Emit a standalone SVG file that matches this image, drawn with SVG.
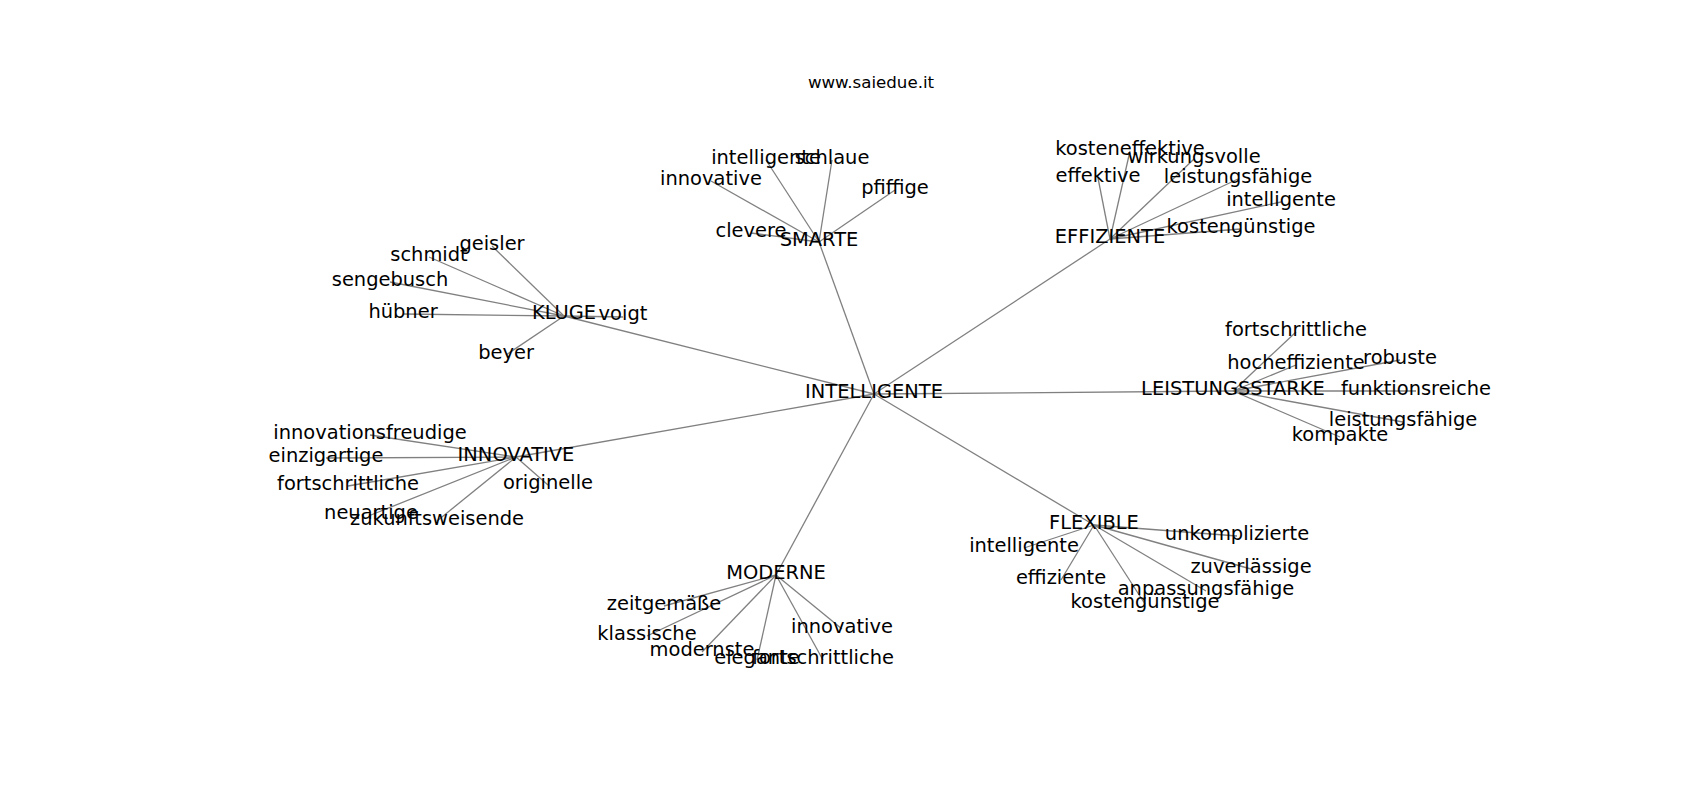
<svg xmlns="http://www.w3.org/2000/svg" width="1700" height="800" viewBox="0 0 1700 800">
<style>
.e{stroke:#808080;stroke-width:1.3;fill:none}
.t{font-family:"DejaVu Sans","Liberation Sans",sans-serif;font-size:19.44px;fill:#000;text-anchor:middle}
.title{font-family:"DejaVu Sans","Liberation Sans",sans-serif;font-size:16.67px;fill:#000;text-anchor:middle}
</style>
<rect width="1700" height="800" fill="#fff"/>
<text class="title" x="871" y="88">www.saiedue.it</text>
<g id="edges">
<line class="e" x1="874" y1="394" x2="819" y2="242"/>
<line class="e" x1="874" y1="394" x2="1110" y2="239"/>
<line class="e" x1="874" y1="394" x2="564" y2="316"/>
<line class="e" x1="874" y1="394" x2="1233" y2="391"/>
<line class="e" x1="874" y1="394" x2="516" y2="457"/>
<line class="e" x1="874" y1="394" x2="776" y2="575"/>
<line class="e" x1="874" y1="394" x2="1094" y2="525"/>
<line class="e" x1="819" y1="242" x2="766" y2="160"/>
<line class="e" x1="819" y1="242" x2="832" y2="160"/>
<line class="e" x1="819" y1="242" x2="711" y2="181"/>
<line class="e" x1="819" y1="242" x2="895" y2="190"/>
<line class="e" x1="819" y1="242" x2="751" y2="233"/>
<line class="e" x1="1110" y1="239" x2="1130" y2="151"/>
<line class="e" x1="1110" y1="239" x2="1194" y2="159"/>
<line class="e" x1="1110" y1="239" x2="1098" y2="178"/>
<line class="e" x1="1110" y1="239" x2="1238" y2="179"/>
<line class="e" x1="1110" y1="239" x2="1281" y2="202"/>
<line class="e" x1="1110" y1="239" x2="1241" y2="229"/>
<line class="e" x1="564" y1="316" x2="492" y2="246"/>
<line class="e" x1="564" y1="316" x2="429" y2="257"/>
<line class="e" x1="564" y1="316" x2="390" y2="282"/>
<line class="e" x1="564" y1="316" x2="403" y2="314"/>
<line class="e" x1="564" y1="316" x2="506" y2="355"/>
<line class="e" x1="564" y1="316" x2="623" y2="317"/>
<line class="e" x1="1233" y1="391" x2="1296" y2="332"/>
<line class="e" x1="1233" y1="391" x2="1296" y2="365"/>
<line class="e" x1="1233" y1="391" x2="1400" y2="360"/>
<line class="e" x1="1233" y1="391" x2="1416" y2="391"/>
<line class="e" x1="1233" y1="391" x2="1403" y2="422"/>
<line class="e" x1="1233" y1="391" x2="1340" y2="437"/>
<line class="e" x1="516" y1="457" x2="370" y2="435"/>
<line class="e" x1="516" y1="457" x2="326" y2="458"/>
<line class="e" x1="516" y1="457" x2="348" y2="486"/>
<line class="e" x1="516" y1="457" x2="548" y2="485"/>
<line class="e" x1="516" y1="457" x2="371" y2="515"/>
<line class="e" x1="516" y1="457" x2="437" y2="521"/>
<line class="e" x1="776" y1="575" x2="664" y2="606"/>
<line class="e" x1="776" y1="575" x2="647" y2="636"/>
<line class="e" x1="776" y1="575" x2="702" y2="652"/>
<line class="e" x1="776" y1="575" x2="757" y2="660"/>
<line class="e" x1="776" y1="575" x2="823" y2="660"/>
<line class="e" x1="776" y1="575" x2="842" y2="629"/>
<line class="e" x1="1094" y1="525" x2="1237" y2="536"/>
<line class="e" x1="1094" y1="525" x2="1024" y2="548"/>
<line class="e" x1="1094" y1="525" x2="1251" y2="569"/>
<line class="e" x1="1094" y1="525" x2="1061" y2="580"/>
<line class="e" x1="1094" y1="525" x2="1206" y2="591"/>
<line class="e" x1="1094" y1="525" x2="1145" y2="604"/>
</g>
<g id="n-intelligente-center"><text class="t" x="874" y="398">INTELLIGENTE</text></g>
<g id="n-smarte"><text class="t" x="819" y="246">SMARTE</text></g>
<g id="n-effiziente"><text class="t" x="1110" y="243">EFFIZIENTE</text></g>
<g id="n-kluge"><text class="t" x="564" y="319">KLUGE</text></g>
<g id="n-leistungsstarke"><text class="t" x="1233" y="395">LEISTUNGSSTARKE</text></g>
<g id="n-innovative-hub"><text class="t" x="516" y="461">INNOVATIVE</text></g>
<g id="n-moderne"><text class="t" x="776" y="579">MODERNE</text></g>
<g id="n-flexible"><text class="t" x="1094" y="529">FLEXIBLE</text></g>
<g id="n-s1"><text class="t" x="766" y="164">intelligente</text></g>
<g id="n-s2"><text class="t" x="832" y="164">schlaue</text></g>
<g id="n-s3"><text class="t" x="711" y="185">innovative</text></g>
<g id="n-s4"><text class="t" x="895" y="194">pfiffige</text></g>
<g id="n-s5"><text class="t" x="751" y="237">clevere</text></g>
<g id="n-e1"><text class="t" x="1130" y="155">kosteneffektive</text></g>
<g id="n-e2"><text class="t" x="1194" y="163">wirkungsvolle</text></g>
<g id="n-e3"><text class="t" x="1098" y="182">effektive</text></g>
<g id="n-e4"><text class="t" x="1238" y="183">leistungsfähige</text></g>
<g id="n-e5"><text class="t" x="1281" y="206">intelligente</text></g>
<g id="n-e6"><text class="t" x="1241" y="233">kostengünstige</text></g>
<g id="n-k1"><text class="t" x="492" y="250">geisler</text></g>
<g id="n-k2"><text class="t" x="429" y="261">schmidt</text></g>
<g id="n-k3"><text class="t" x="390" y="286">sengebusch</text></g>
<g id="n-k4"><text class="t" x="403" y="318">hübner</text></g>
<g id="n-k5"><text class="t" x="506" y="359">beyer</text></g>
<g id="n-k6"><text class="t" x="623" y="320">voigt</text></g>
<g id="n-l1"><text class="t" x="1296" y="336">fortschrittliche</text></g>
<g id="n-l2"><text class="t" x="1296" y="369">hocheffiziente</text></g>
<g id="n-l3"><text class="t" x="1400" y="364">robuste</text></g>
<g id="n-l4"><text class="t" x="1416" y="395">funktionsreiche</text></g>
<g id="n-l5"><text class="t" x="1403" y="426">leistungsfähige</text></g>
<g id="n-l6"><text class="t" x="1340" y="441">kompakte</text></g>
<g id="n-i1"><text class="t" x="370" y="439">innovationsfreudige</text></g>
<g id="n-i2"><text class="t" x="326" y="462">einzigartige</text></g>
<g id="n-i3"><text class="t" x="348" y="490">fortschrittliche</text></g>
<g id="n-i4"><text class="t" x="548" y="489">originelle</text></g>
<g id="n-i5"><text class="t" x="371" y="519">neuartige</text></g>
<g id="n-i6"><text class="t" x="437" y="525">zukunftsweisende</text></g>
<g id="n-m1"><text class="t" x="664" y="610">zeitgemäße</text></g>
<g id="n-m2"><text class="t" x="647" y="640">klassische</text></g>
<g id="n-m3"><text class="t" x="702" y="656">modernste</text></g>
<g id="n-m4"><text class="t" x="757" y="664">elegante</text></g>
<g id="n-m5"><text class="t" x="823" y="664">fortschrittliche</text></g>
<g id="n-m6"><text class="t" x="842" y="633">innovative</text></g>
<g id="n-f1"><text class="t" x="1237" y="540">unkomplizierte</text></g>
<g id="n-f2"><text class="t" x="1024" y="552">intelligente</text></g>
<g id="n-f3"><text class="t" x="1251" y="573">zuverlässige</text></g>
<g id="n-f4"><text class="t" x="1061" y="584">effiziente</text></g>
<g id="n-f5"><text class="t" x="1206" y="595">anpassungsfähige</text></g>
<g id="n-f6"><text class="t" x="1145" y="608">kostengünstige</text></g>
</svg>
